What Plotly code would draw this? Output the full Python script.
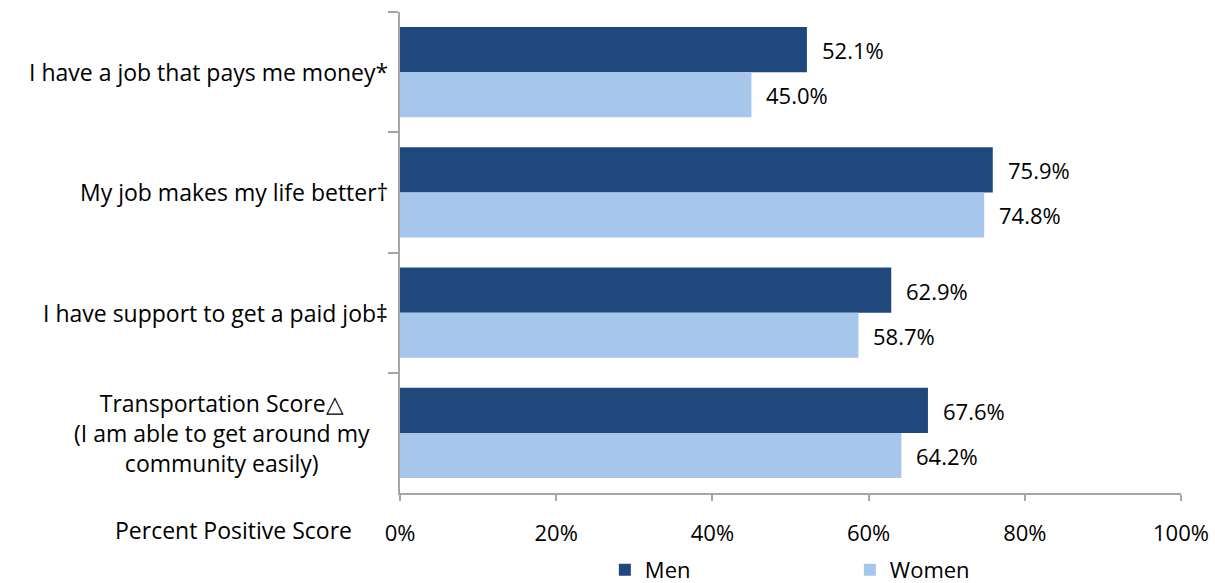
import plotly.graph_objects as go

categories = [
    "I have a job that pays me money*",
    "My job makes my life better†",
    "I have support to get a paid job‡",
    "Transportation Score△<br>(I am able to get around my<br>community easily)",
]
cat_keys = ["c1", "c2", "c3", "c4"]
men = [52.1, 75.9, 62.9, 67.6]
women = [45.0, 74.8, 58.7, 64.2]
x_ticks = [0, 20, 40, 60, 80, 100]
x_tick_labels = ["0%", "20%", "40%", "60%", "80%", "100%"]

FONT = "Open Sans"
FS = 22
MEN_C = "#1F497D"
WOMEN_C = "#A6C6EB"

fig = go.Figure()
fig.add_trace(go.Bar(y=cat_keys, x=men, name="Men", orientation="h",
                     marker=dict(color=MEN_C, line=dict(width=0))))
fig.add_trace(go.Bar(y=cat_keys, x=women, name="Women", orientation="h",
                     marker=dict(color=WOMEN_C, line=dict(width=0))))

annotations = []
for k, m, w in zip(cat_keys, men, women):
    annotations.append(dict(x=m, y=k, xref="x", yref="y", text=f"{m:.1f}%",
                            showarrow=False, xanchor="left", xshift=13, yshift=22,
                            font=dict(family=FONT, size=FS, color="#000")))
    annotations.append(dict(x=w, y=k, xref="x", yref="y", text=f"{w:.1f}%",
                            showarrow=False, xanchor="left", xshift=13, yshift=-23,
                            font=dict(family=FONT, size=FS, color="#000")))
for i, (k, c) in enumerate(zip(cat_keys, categories)):
    multi = "<br>" in c
    annotations.append(dict(x=0, y=k, xref="paper", yref="y", text=c,
                            showarrow=False, xanchor="right", align="center",
                            xshift=-28 if multi else -10,
                            font=dict(family=FONT, size=23, color="#000")))
annotations.append(dict(x=0, y=0, xref="paper", yref="paper", text="Percent Positive Score",
                        showarrow=False, xanchor="right", yanchor="middle",
                        xshift=-46, yshift=-37,
                        font=dict(family=FONT, size=23, color="#000")))

fig.update_layout(
    width=1215, height=583,
    margin=dict(l=400, r=34, t=12, b=90, autoexpand=False),
    plot_bgcolor="white", paper_bgcolor="white",
    barmode="group", bargap=0.25, bargroupgap=0,
    font=dict(family=FONT, size=FS, color="#000"),
    annotations=annotations,
    showlegend=True,
    legend=dict(orientation="h", x=0.576, xanchor="center", y=-0.16, yanchor="middle",
                font=dict(family=FONT, size=FS, color="#000"),
                entrywidth=200, entrywidthmode="pixels", itemclick=False),
    xaxis=dict(range=[0, 100], tickvals=x_ticks, ticktext=x_tick_labels,
               showgrid=False, zeroline=False, showline=True, linecolor="#A6A6A6",
               linewidth=1.5, ticks="outside", ticklen=6, tickcolor="#A6A6A6",
               tickwidth=1.5, ticklabelstandoff=14, fixedrange=True),
    yaxis=dict(categoryorder="array", categoryarray=cat_keys, autorange="reversed",
               showticklabels=False, showgrid=False, zeroline=False, showline=True,
               linecolor="#A6A6A6", linewidth=1.5, ticks="outside", ticklen=10,
               tickcolor="#A6A6A6", tickwidth=1.5, tickson="boundaries", fixedrange=True),
)

fig.write_html("out.html")
